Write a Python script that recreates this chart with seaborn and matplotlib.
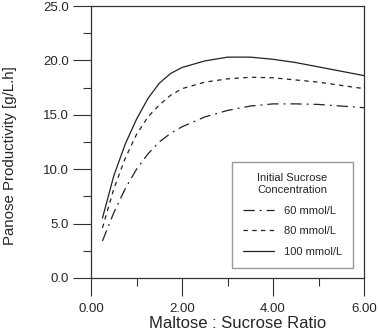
import numpy as np
import pandas as pd
import seaborn as sns
import matplotlib
matplotlib.use("Agg")
import matplotlib.pyplot as plt
from matplotlib.ticker import MultipleLocator, FormatStrFormatter

# ratio values (x) and productivity curves for each initial sucrose concentration
ratio = [0.25, 0.5, 0.75, 1.0, 1.25, 1.5, 1.75, 2.0, 2.5, 3.0, 3.5, 4.0, 4.5, 5.0, 5.5, 6.0]
prod_60 = [3.4, 6.0, 8.2, 10.0, 11.4, 12.5, 13.3, 13.9, 14.8, 15.4, 15.8, 16.0, 16.0, 15.95, 15.8, 15.65]
prod_80 = [4.6, 8.2, 11.0, 13.2, 14.8, 15.9, 16.8, 17.4, 18.0, 18.3, 18.45, 18.4, 18.2, 18.0, 17.7, 17.4]
prod_100 = [5.5, 9.4, 12.3, 14.6, 16.5, 17.9, 18.8, 19.35, 19.95, 20.3, 20.3, 20.1, 19.8, 19.4, 19.0, 18.6]
labels = ["60 mmol/L", "80 mmol/L", "100 mmol/L"]

sns.set_style("white")
plt.rcParams['font.family'] = ['Liberation Sans', 'DejaVu Sans']

fig = plt.figure(figsize=(3.78, 3.34), dpi=100)
ax = fig.add_axes([0.241, 0.168, 0.722, 0.814])

styles = [(0, (9, 4, 1.5, 4)), (0, (3.5, 3.5)), "-"]
for y, lab, ls in zip([prod_60, prod_80, prod_100], labels, styles):
    sns.lineplot(x=ratio, y=y, ax=ax, color="#222222", lw=0.9, linestyle=ls, label=lab)

ax.set_xlim(0, 6)
ax.set_ylim(0, 25)
ax.xaxis.set_major_locator(MultipleLocator(2))
ax.xaxis.set_minor_locator(MultipleLocator(1))
ax.yaxis.set_major_locator(MultipleLocator(5))
ax.yaxis.set_minor_locator(MultipleLocator(2.5))
ax.xaxis.set_major_formatter(FormatStrFormatter("%.2f"))
ax.yaxis.set_major_formatter(FormatStrFormatter("%.1f"))
ax.tick_params(which="major", direction="out", length=13, width=0.8, color="#333333",
               labelsize=9.5, pad=3, bottom=True, left=True)
ax.tick_params(axis="x", which="major", pad=5)
ax.tick_params(which="minor", direction="out", length=6, width=0.8, color="#333333",
               bottom=True, left=True)
for s in ax.spines.values():
    s.set_color("#333333")
    s.set_linewidth(0.9)

ax.set_xlabel("Maltose : Sucrose Ratio", fontsize=12)
ax.set_ylabel("Panose Productivity [g/L.h]", fontsize=10.8)
ax.xaxis.set_label_coords(0.538, -0.142)
ax.yaxis.set_label_coords(-0.272, 0.449)

leg = ax.legend(title="Initial Sucrose\nConcentration", loc="lower right",
                bbox_to_anchor=(0.96, 0.037), borderaxespad=0, fontsize=8, title_fontsize=8,
                frameon=True, fancybox=False, edgecolor="#999999", framealpha=1,
                handlelength=2.8, handletextpad=0.9, labelspacing=0.95, borderpad=1.0)
leg.get_frame().set_linewidth(1.0)

fig.savefig("out.png", dpi=100)
